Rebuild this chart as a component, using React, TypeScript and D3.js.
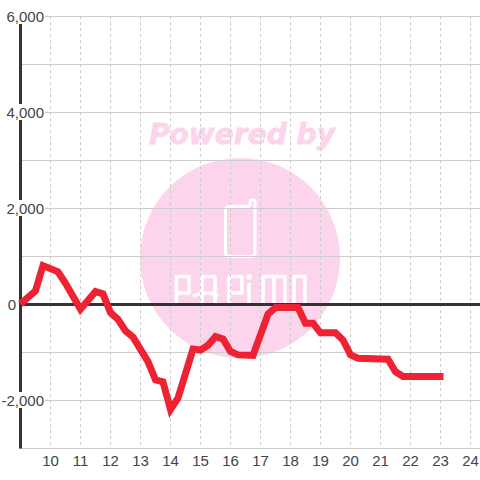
import React from "react";
import * as d3 from "d3";

const times = [9, 9.5, 9.75, 10.25, 10.5, 11, 11.5, 11.75, 12, 12.25, 12.5, 12.75, 13.25, 13.5, 13.75, 14, 14.25, 14.75, 15, 15.25, 15.5, 15.75, 16, 16.25, 16.75, 17.25, 17.5, 18.25, 18.5, 18.75, 19, 19.5, 19.75, 20, 20.25, 21.25, 21.5, 21.75, 23.1];
const values = [0, 275, 800, 670, 430, -110, 260, 210, -180, -320, -560, -690, -1200, -1580, -1620, -2200, -1960, -940, -960, -860, -680, -730, -990, -1060, -1070, -210, -75, -75, -400, -400, -600, -600, -750, -1060, -1130, -1150, -1410, -1510, -1510];
const xTicks = [10, 11, 12, 13, 14, 15, 16, 17, 18, 19, 20, 21, 22, 23, 24];
const yGrid = [6000, 5000, 4000, 3000, 2000, 1000, 0, -1000, -2000, -3000];
const yLabels = [6000, 4000, 2000, 0, -2000];

const x = d3.scaleLinear().domain([9, 24]).range([20.5, 470.5]);
const y = d3.scaleLinear().domain([6000, -3000]).range([16, 448]);
const line = d3.line<number>().x((_, i) => x(times[i])).y((d) => y(d)).curve(d3.curveLinear);
const fmt = (v: number) => d3.format(",")(v).replace("\u2212", "-");
const FONT = "'Liberation Sans', Arial, sans-serif";
const PINK = "#fcd5ec";

export default function App() {
  return (
    <svg width={480} height={480} style={{ position: "fixed", left: 0, top: 0, background: "#fff" }} fontFamily={FONT}>
      <circle cx={240} cy={258} r={100} fill={PINK} />
      <text x={242} y={144} textAnchor="middle" fontFamily="'DejaVu Sans', sans-serif" fontWeight="bold" fontStyle="italic" fontSize={28} fill={PINK} stroke={PINK} strokeWidth={0.8} textLength={186} lengthAdjust="spacingAndGlyphs">Powered by</text>
      <g fill="none" stroke="#fff" strokeLinejoin="round" strokeLinecap="butt">
        <path strokeWidth={3} d="M250 206.5H229Q225.5 206.5 225.5 210V253Q225.5 256.5 229 256.5H252Q255 256.5 255 253V202Q255 200 252.5 200Q250 200 250 202V206.5" />
        <g strokeWidth={3.5}>
          <path d="M176.5 306V276.5H189V293H176.5" />
          <path d="M202 306V276.5H215V306" />
          <path d="M193 296Q200 293 207 293Q214 293 218 296" />
          <path d="M229 306V276.5H242V293H229" />
          <path d="M249 306V283" />
          <path d="M263 306V276.5H285V306M274 276.5V306" />
          <path d="M294 306V276.5H305V306" />
        </g>
        <circle cx={249} cy={277} r={2.8} fill="#fff" stroke="none" />
      </g>
      {yGrid.map((v) => (
        <line key={v} x1={20} x2={480} y1={y(v) + 0.5} y2={y(v) + 0.5} stroke="#ccc" strokeWidth={1} />
      ))}
      {xTicks.map((t) => (
        <line key={t} x1={x(t)} x2={x(t)} y1={16} y2={448} stroke="#ccc" strokeWidth={1} strokeDasharray="3,3" />
      ))}
      <line x1={20.5} x2={20.5} y1={16} y2={448.5} stroke="#333" strokeWidth={3} />
      <line x1={19} x2={480} y1={y(0) + 0.5} y2={y(0) + 0.5} stroke="#333" strokeWidth={3} />
      <path d={line(values) ?? ""} fill="none" stroke="#ee2233" strokeWidth={7} strokeLinejoin="miter" />
      {yLabels.map((v) => {
        const s = fmt(v);
        const end = v === 0 ? 16 : 44;
        const w = v === 0 ? 9 : v < 0 ? 42 : 38;
        return (
          <g key={v}>
            <rect x={end - w} y={y(v) - 8} width={w + 1} height={16} fill="#fff" />
            <text x={end} y={y(v) + 5.5} textAnchor="end" fontSize={15} fill="#444">{s}</text>
          </g>
        );
      })}
      {xTicks.map((t) => (
        <text key={t} x={x(t)} y={466} textAnchor="middle" fontSize={15} fill="#444">{t}</text>
      ))}
    </svg>
  );
}
